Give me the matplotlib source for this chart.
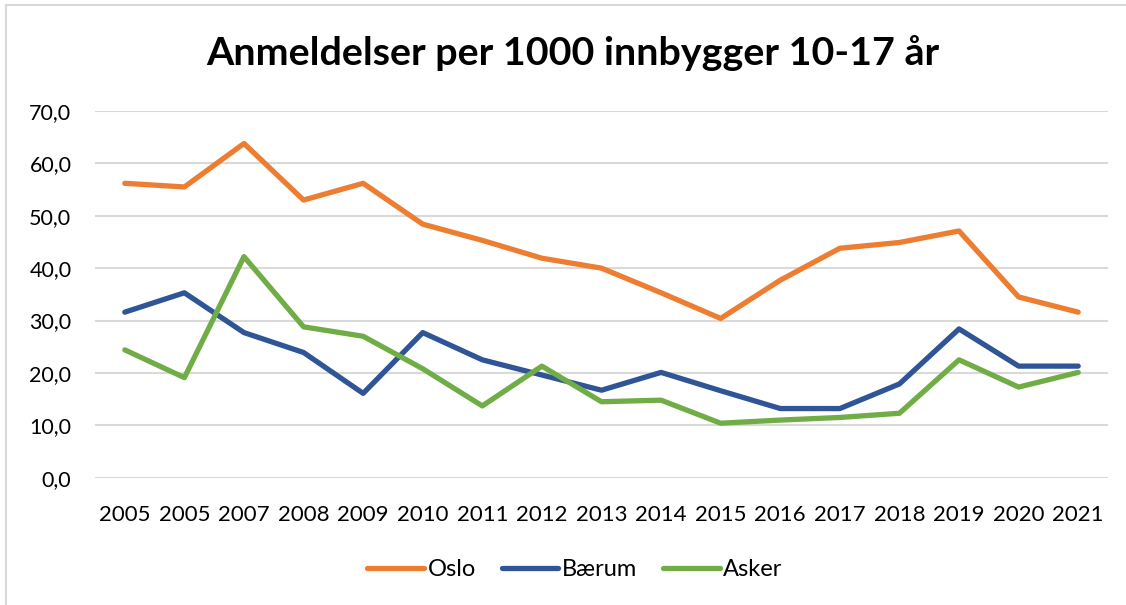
import matplotlib
matplotlib.use("Agg")
import matplotlib.pyplot as plt
from matplotlib.ticker import FuncFormatter, MultipleLocator
from matplotlib.lines import Line2D

years = ["2005", "2005", "2007", "2008", "2009", "2010", "2011", "2012", "2013",
         "2014", "2015", "2016", "2017", "2018", "2019", "2020", "2021"]
oslo = [56.2, 55.5, 63.8, 53.0, 56.2, 48.4, 45.3, 41.9, 40.0, 35.3, 30.4,
        37.7, 43.8, 44.9, 47.1, 34.5, 31.6]
baerum = [31.6, 35.3, 27.7, 23.9, 16.1, 27.7, 22.5, 19.6, 16.7, 20.1, 16.6,
          13.2, 13.2, 17.9, 28.4, 21.3, 21.3]
asker = [24.4, 19.1, 42.2, 28.8, 27.0, 20.8, 13.7, 21.3, 14.5, 14.8, 10.4,
         11.0, 11.5, 12.3, 22.5, 17.3, 20.1]
series_names = ["Oslo", "Bærum", "Asker"]
colors = ["#ED7D31", "#2F5597", "#70AD47"]
title = "Anmeldelser per 1000 innbygger 10-17 år"

plt.rcParams['font.family'] = ['Lato', 'DejaVu Sans']

fig = plt.figure(figsize=(11.26, 6.05), dpi=100)
ax = fig.add_axes([95/1126, 1-477.7/605, (1108-95)/1126, (477.7-111)/605])

x = list(range(len(years)))
for vals, name, c in zip([oslo, baerum, asker], series_names, colors):
    ax.plot(x, vals, color=c, lw=3.8, label=name, solid_capstyle='round',
            solid_joinstyle='round')

ax.set_xlim(-0.5, len(years) - 0.5)
ax.set_ylim(0, 70)
ax.yaxis.set_major_locator(MultipleLocator(10))
ax.yaxis.set_major_formatter(FuncFormatter(lambda v, p: f"{v:.1f}".replace(".", ",")))
ax.set_xticks(x)
ax.set_xticklabels(years)
ax.grid(axis='y', color='#D9D9D9', lw=1.5)
ax.set_axisbelow(True)
for s in ax.spines.values():
    s.set_visible(False)
ax.tick_params(axis='both', length=0, colors='#000000')
ax.tick_params(axis='y', pad=17, labelsize=15.5)
ax.tick_params(axis='x', pad=20, labelsize=16)

fig.text(573/1126, 1-53/605, title, ha='center', va='center', fontsize=28.4,
         fontweight='bold')

handles = [Line2D([0], [0], color=c, lw=3.8, solid_capstyle='round') for c in colors]
fig.legend(handles, series_names, loc='center', bbox_to_anchor=(575/1126, 1-570/605),
           ncol=3, frameon=False, fontsize=17, handlelength=2.4,
           columnspacing=1.1, handletextpad=0.15)

# chart border (left and top visible)
fig.add_artist(Line2D([6/1126, 6/1126], [0, 1-5/605], color='#D9D9D9', lw=1.5,
                      transform=fig.transFigure))
fig.add_artist(Line2D([6/1126, 1], [1-5/605, 1-5/605], color='#D9D9D9', lw=1.5,
                      transform=fig.transFigure))

fig.savefig("out.png", dpi=100, facecolor='white')
